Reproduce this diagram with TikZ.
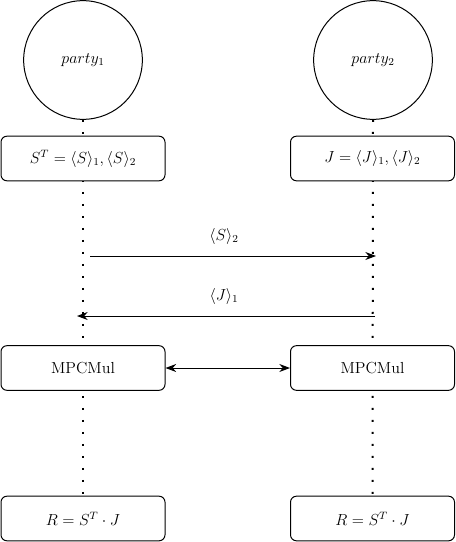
\documentclass[tikz,border=0pt]{standalone}
\usetikzlibrary{arrows.meta,backgrounds}
\begin{document}
\begin{tikzpicture}[x=0.75pt,y=-0.75pt,
  party/.style={draw,line width=0.75pt,circle,minimum size=89pt,inner sep=0pt,fill=white,font=\large},
  boxnode/.style={draw,line width=0.75pt,rounded corners=4.5pt,minimum width=123pt,minimum height=33.5pt,inner sep=0pt,fill=white,font=\large},
  lifeline/.style={line width=1.5pt,dash pattern=on 1.5pt off 7.5pt},
  msg/.style={line width=0.75pt,-{Stealth[length=8pt,width=6pt]}},
  lbl/.style={font=\large}]
\useasboundingbox (0,0) rectangle (456,542);
\node[party] (p1) at (83,60) {$party_1$};
\node[party] (p2) at (373,60) {$party_2$};
\node[boxnode] (s1) at (83,158.5) {$S^T=\langle S\rangle_1,\langle S\rangle_2$};
\node[boxnode] (s2) at (372.5,158.5) {$J=\langle J\rangle_1,\langle J\rangle_2$};
\node[boxnode] (m1) at (83,368) {MPCMul};
\node[boxnode] (m2) at (372.5,368) {MPCMul};
\node[boxnode] (r1) at (83,518.5) {$R=S^T\cdot J$};
\node[boxnode] (r2) at (372.5,518.5) {$R=S^T\cdot J$};
\begin{scope}[on background layer]
\draw[lifeline] (p1.south) -- (r1.north);
\draw[lifeline] (p2.south) -- (r2.north);
\end{scope}
\coordinate (a1) at (90,256);
\coordinate (a2) at (376,256);
\coordinate (b1) at (375,316);
\coordinate (b2) at (77,316);
\draw[msg] (a1) -- (a2);
\draw[msg] (b1) -- (b2);
\node[lbl] (la) at (224,236) {$\langle S\rangle_2$};
\node[lbl] (lb) at (224,296) {$\langle J\rangle_1$};
\draw[line width=0.75pt,{Stealth[length=8pt,width=6pt]}-{Stealth[length=8pt,width=6pt]}] (m1.east) -- (m2.west);
\end{tikzpicture}
\end{document}
